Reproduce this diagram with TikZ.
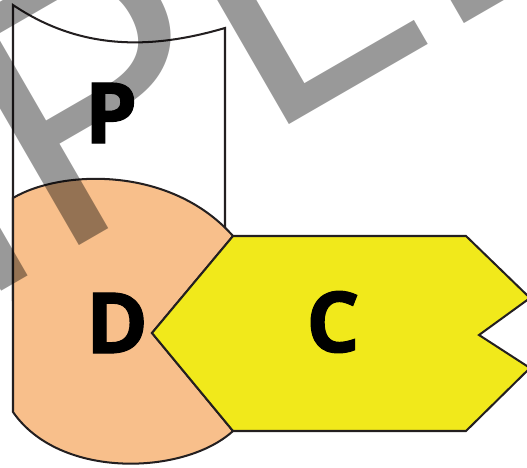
\documentclass[tikz,border=0pt]{standalone}
\usepackage{fontspec}
\setmainfont{Open Sans}
\newfontfamily\letterfont[BoldFeatures={FakeBold=1.2}]{Open Sans}
\newfontfamily\markfont{Liberation Sans}
\usepackage{xcolor}
\usepackage{tikz}
\definecolor{outline}{HTML}{231F20}
\definecolor{dfill}{HTML}{F8BF8B}
\definecolor{cfill}{HTML}{F1E91B}

\begin{document}
\begin{tikzpicture}[
  part/.style={draw=outline,line width=1.15pt},
  letter/.style={inner sep=0pt,font=\letterfont\fontsize{48}{48}\selectfont\bfseries}]
\useasboundingbox (0,0) rectangle (10.54,-9.36);
\clip (0,0) rectangle (10.54,-9.36);
% P: box with a curved rim, partly hidden behind D and C
\draw[part,fill=white] (0.26,-0.10) .. controls (1.6,-1.0) and (3.0,-1.0) .. (4.5,-0.56)
  -- (4.5,-6.0) -- (0.26,-6.0) -- cycle;
% D
\draw[part,fill=dfill] (0.26,-3.96) .. controls (1.2,-3.4) and (3.4,-3.3) .. (4.66,-4.72)
  -- (3.04,-6.66) -- (4.66,-8.62) .. controls (3.7,-9.5) and (1.2,-9.6) .. (0.26,-8.24) -- cycle;
% C, pointing into D
\draw[part,fill=cfill] (4.66,-4.72) -- (9.32,-4.72) -- (10.6,-5.96) -- (9.58,-6.7)
  -- (10.6,-7.36) -- (9.32,-8.62) -- (4.66,-8.62) -- (3.04,-6.66) -- cycle;
\node[letter] (p) at (2.22,-2.26) {P};
\node[letter] (d) at (2.34,-6.46) {D};
\node[letter] (c) at (6.66,-6.44) {C};
% watermark on top
\node[rotate=30,anchor=base,inner sep=0pt,text=black,text opacity=0.4,
  font=\markfont\fontsize{207}{207}\selectfont] (mark) at (0.2,-5.72) {SAMPLE};
\end{tikzpicture}
\end{document}
